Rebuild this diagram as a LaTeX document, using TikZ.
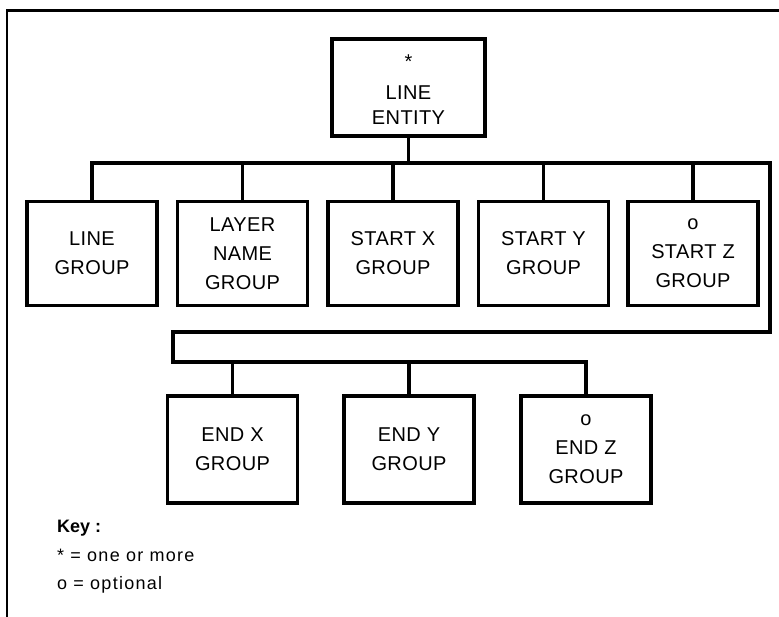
\documentclass[tikz,border=0pt]{standalone}
\usepackage{fontspec}
\setmainfont{Liberation Sans}
\newfontfamily\keyfont[LetterSpace=7]{Liberation Sans}
\newfontfamily\boxfont[LetterSpace=2]{Liberation Sans}
\begin{document}
\begin{tikzpicture}[x=1pt,y=-1pt,
  box/.style={draw,line width=3.5pt,minimum width=130pt,minimum height=104pt,inner sep=0pt,align=center,
    font=\boxfont\fontsize{20}{29}\selectfont},
  conn/.style={line width=3.5pt,line join=miter},
  keytxt/.style={anchor=base west,inner sep=0pt,font=\keyfont\fontsize{18}{20}\selectfont}]
\useasboundingbox (0,0) rectangle (779,616);
\begin{scope}
\clip (0,0) rectangle (779,616);
\draw[line width=2.5pt] (7,10.5) rectangle (800,640);
\end{scope}
% top
\node[box,minimum width=153pt,minimum height=97pt,font=\boxfont\fontsize{20}{28}\selectfont] (top) at (408.5,87.5) {\rule{0pt}{17pt}*\\[3pt]LINE\\[-3pt]ENTITY};
% row 1
\node[box] (lg) at (92,253.5) {LINE\\GROUP};
\node[box] (ln) at (242.5,253.5) {LAYER\\NAME\\GROUP};
\node[box] (sx) at (393,253.5) {START X\\GROUP};
\node[box] (sy) at (543.5,253.5) {START Y\\GROUP};
\node[box] (sz) at (693,253.5) {o\\START Z\\GROUP};
% row 2
\node[box,minimum height=107pt] (ex) at (232.5,449.5) {END X\\GROUP};
\node[box,minimum height=107pt] (ey) at (409,449.5) {END Y\\GROUP};
\node[box,minimum height=107pt] (ez) at (586,449.5) {o\\END Z\\GROUP};
% bus coordinates
\coordinate (busA) at (0,163);
\coordinate (cR) at (770,0);
\coordinate (busB) at (0,332);
\coordinate (cL) at (173,0);
\coordinate (busC) at (0,362);
\draw[conn] (top.south) -- (top.south |- busA);
\draw[conn] (lg.north) -- (lg.north |- busA) -- (cR |- busA) -- (cR |- busB) -- (cL |- busB) -- (cL |- busC) -- (ez.north |- busC) -- (ez.north);
\draw[conn] (ln.north) -- (ln.north |- busA);
\draw[conn] (sx.north) -- (sx.north |- busA);
\draw[conn] (sy.north) -- (sy.north |- busA);
\draw[conn] (sz.north) -- (sz.north |- busA);
\draw[conn] (ex.north) -- (ex.north |- busC);
\draw[conn] (ey.north) -- (ey.north |- busC);
% key
\node[keytxt,font=\bfseries\fontsize{18}{20}\selectfont] (k1) at (57,532) {Key :};
\node[keytxt] (k2) at (57,561) {* = one or more};
\node[keytxt] (k3) at (57,589) {o = optional};
\end{tikzpicture}
\end{document}
